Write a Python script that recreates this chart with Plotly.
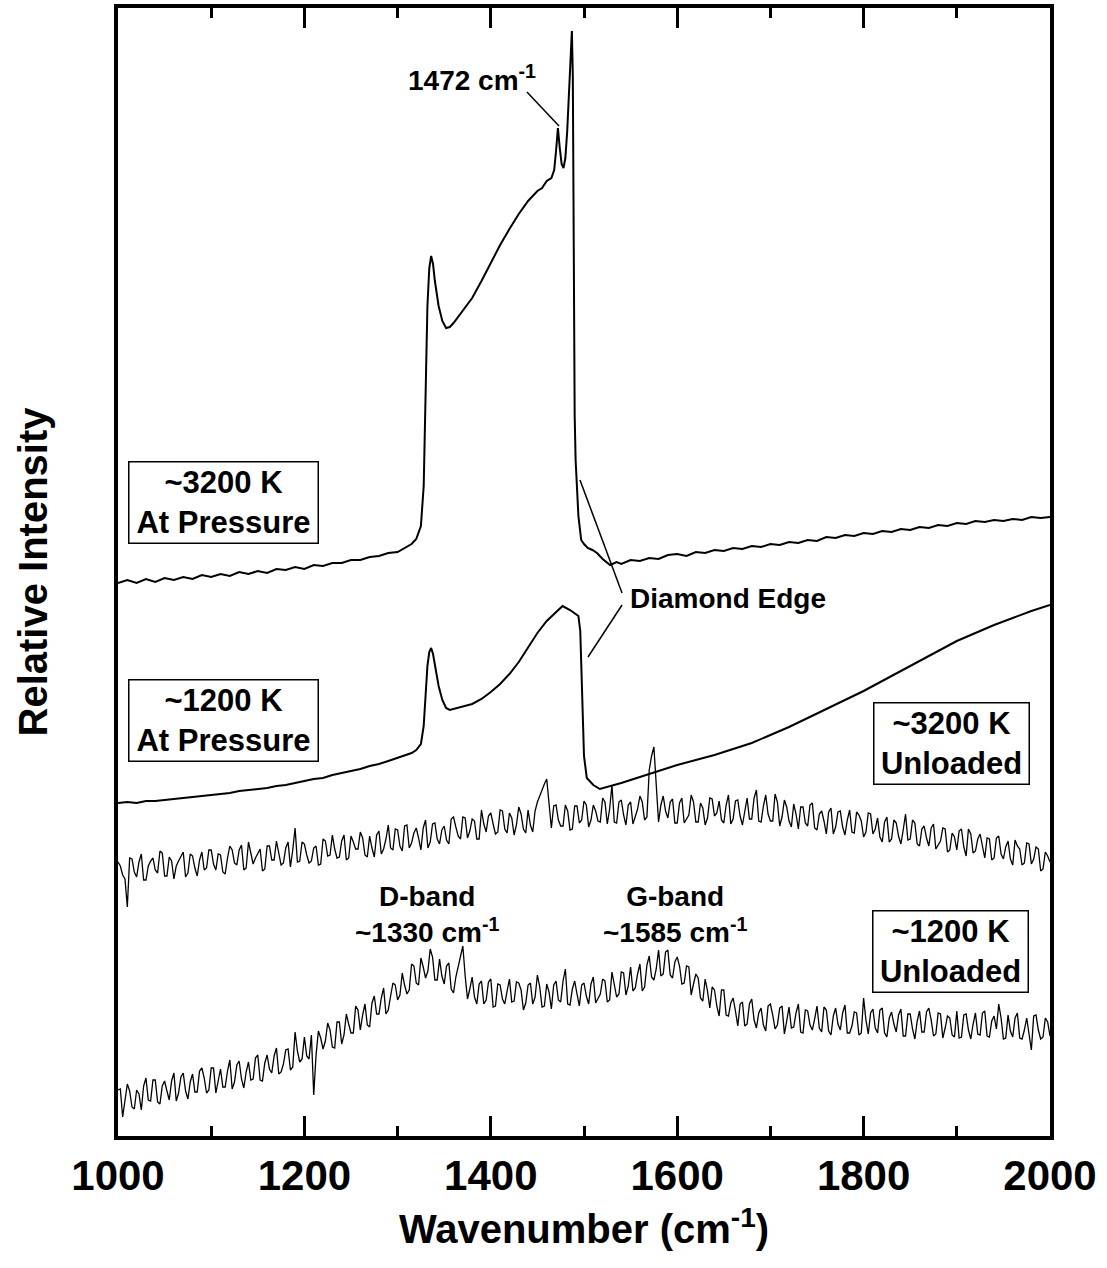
import plotly.graph_objects as go

FONT = "Liberation Sans, Arial, Helvetica, sans-serif"

# ---------------- data (relative intensity, arbitrary units) ----------------
# ~3200 K at pressure
X_3200P = [1000, 1010, 1020, 1030, 1040, 1050, 1060, 1070, 1080, 1090, 1100, 1110, 1120, 1130, 1140,
           1150, 1160, 1170, 1180, 1190, 1200, 1210, 1220, 1230, 1240, 1250, 1260, 1270, 1280, 1290,
           1300, 1310, 1315, 1320, 1325, 1328, 1330, 1332, 1334, 1336, 1338, 1340, 1344, 1348, 1352,
           1356, 1360, 1370, 1380, 1390, 1400, 1410, 1420, 1430, 1440, 1450, 1455, 1460, 1465, 1468,
           1470, 1472, 1474, 1476, 1478, 1480, 1482, 1484, 1486, 1487, 1488, 1489, 1490, 1491, 1494,
           1497, 1500, 1504, 1509, 1514, 1520, 1528, 1535, 1540, 1550, 1560, 1570, 1580, 1590, 1600,
           1610, 1620, 1630, 1640, 1650, 1660, 1670, 1680, 1690, 1700, 1710, 1720, 1730, 1740, 1750,
           1760, 1770, 1780, 1790, 1800, 1810, 1820, 1830, 1840, 1850, 1860, 1870, 1880, 1890, 1900,
           1910, 1920, 1930, 1940, 1950, 1960, 1970, 1980, 1990, 2000]
Y_3200P = [553, 556, 553, 557, 554, 558, 556, 559, 557, 561, 559, 562, 560, 564, 562,
           565, 563, 567, 566, 569, 567, 571, 570, 573, 573, 576, 576, 579, 580, 583,
           584, 589, 592, 597, 610, 650, 740, 830, 868, 880, 872, 855, 830, 815, 808,
           809, 813, 825, 838, 855, 873, 891, 907, 922, 935, 945, 948, 955, 958, 966,
           985, 1008, 988, 972, 968, 978, 1005, 1050, 1095, 1105, 1060, 850, 720, 676, 620,
           596, 592, 588, 586, 583, 577, 571, 574, 572, 576, 575, 578, 577, 581, 582,
           580, 584, 583, 586, 585, 588, 587, 590, 589, 592, 591, 594, 593, 596, 595,
           599, 598, 601, 600, 603, 602, 605, 604, 607, 606, 609, 608, 611, 610, 613,
           612, 615, 614, 616, 615, 617, 616, 619, 618, 619]

# ~1200 K at pressure
X_1200P = [1000, 1010, 1020, 1030, 1040, 1050, 1060, 1070, 1080, 1090, 1100, 1110, 1120, 1130, 1140,
           1150, 1160, 1170, 1180, 1190, 1200, 1210, 1220, 1230, 1240, 1250, 1260, 1270, 1280, 1290,
           1300, 1310, 1315, 1320, 1325, 1328, 1330, 1332, 1334, 1336, 1338, 1340, 1344, 1348, 1352,
           1356, 1360, 1370, 1380, 1390, 1400, 1410, 1420, 1430, 1440, 1450, 1460, 1470, 1477, 1485,
           1490, 1494, 1496, 1498, 1500, 1503, 1510, 1517, 1530, 1540, 1550, 1560, 1575, 1590, 1600,
           1620, 1640, 1660, 1680, 1700, 1720, 1740, 1760, 1780, 1800, 1820, 1840, 1860, 1880, 1900,
           1920, 1940, 1960, 1980, 2000]
Y_1200P = [333, 334, 333, 335, 335, 336, 337, 338, 339, 340, 341, 342, 343, 345, 346,
           347, 348, 350, 351, 353, 355, 357, 358, 361, 363, 365, 367, 370, 372, 375,
           378, 381, 383, 386, 392, 410, 440, 470, 484, 488, 482, 470, 450, 436, 428,
           426, 427, 429, 432, 437, 444, 452, 462, 474, 488, 503, 515, 524, 530, 526,
           523, 520, 505, 440, 380, 358, 351, 347, 350, 353, 356, 359, 364, 368, 371,
           376, 381, 387, 393, 401, 409, 418, 427, 436, 445, 455, 465, 475, 485, 495,
           503, 511, 518, 525, 531]

# unloaded spectra sampled every 2.5 cm^-1 from 1000 to 2000 (401 points)
X_UNLOADED = [1000 + 2.5 * i for i in range(401)]
Y_3200U = [
    274, 270, 261, 257, 229, 278, 277, 264, 259, 274, 282, 256, 256, 270, 275, 278, 266, 263, 285, 283,
    260, 260, 279, 275, 257, 270, 275, 279, 284, 259, 263, 282, 280, 268, 260, 276, 284, 266, 268, 286,
    286, 272, 266, 282, 281, 264, 262, 278, 290, 286, 273, 271, 286, 291, 266, 268, 294, 283, 272, 278,
    282, 287, 265, 267, 290, 290, 276, 276, 295, 284, 271, 273, 288, 294, 269, 286, 308, 274, 275, 294,
    292, 281, 273, 275, 288, 290, 271, 272, 297, 295, 280, 281, 301, 287, 278, 279, 295, 301, 276, 278,
    300, 294, 287, 287, 304, 298, 281, 279, 300, 288, 279, 301, 305, 282, 287, 297, 311, 288, 286, 307,
    306, 290, 285, 310, 311, 288, 293, 303, 308, 298, 286, 308, 316, 288, 294, 312, 313, 297, 292, 306,
    310, 296, 292, 317, 319, 309, 300, 297, 319, 318, 298, 305, 317, 315, 297, 297, 326, 312, 304, 320,
    323, 312, 302, 304, 326, 325, 307, 303, 323, 318, 301, 311, 329, 322, 307, 303, 326, 311, 304, 325,
    334, 340, 347, 352, 357, 330, 308, 330, 331, 316, 310, 310, 331, 325, 306, 307, 330, 330, 313, 316,
    335, 331, 309, 316, 331, 325, 315, 314, 338, 334, 312, 327, 351, 314, 313, 334, 336, 321, 311, 331,
    334, 312, 319, 327, 340, 334, 316, 319, 366, 380, 389, 350, 314, 331, 340, 325, 318, 334, 337, 313,
    313, 333, 338, 313, 317, 321, 341, 334, 314, 314, 333, 328, 311, 318, 338, 337, 320, 323, 335, 316,
    313, 331, 341, 312, 317, 335, 336, 320, 311, 326, 338, 317, 317, 338, 346, 315, 314, 330, 341, 322,
    315, 315, 342, 334, 310, 319, 336, 329, 315, 309, 332, 322, 307, 329, 329, 313, 310, 331, 333, 308,
    306, 322, 325, 315, 302, 324, 328, 302, 309, 324, 325, 309, 301, 316, 326, 304, 303, 324, 321, 315,
    299, 304, 323, 322, 302, 307, 318, 299, 294, 314, 319, 294, 297, 316, 313, 300, 292, 306, 322, 296,
    297, 316, 313, 292, 290, 307, 310, 298, 290, 308, 312, 287, 291, 295, 308, 307, 284, 286, 303, 299,
    286, 305, 307, 289, 280, 307, 302, 283, 285, 297, 302, 290, 278, 298, 297, 276, 278, 298, 300, 282,
    277, 289, 295, 277, 271, 296, 290, 287, 271, 273, 293, 292, 272, 277, 289, 287, 265, 267, 284, 280,
    274]
Y_1200U = [
    46, 47, 19, 34, 52, 45, 29, 27, 46, 42, 26, 50, 58, 36, 35, 56, 56, 34, 32, 50,
    55, 45, 36, 55, 63, 35, 43, 59, 63, 45, 37, 54, 62, 44, 44, 65, 68, 58, 43, 46,
    68, 68, 43, 55, 67, 49, 49, 65, 76, 47, 54, 71, 75, 57, 48, 64, 74, 56, 57, 78,
    81, 56, 55, 73, 81, 67, 63, 80, 88, 62, 64, 72, 86, 87, 66, 69, 104, 85, 74, 77,
    99, 80, 77, 101, 41, 81, 105, 98, 87, 95, 113, 106, 89, 88, 114, 114, 92, 101, 122, 112,
    103, 103, 130, 126, 106, 121, 132, 111, 109, 133, 140, 122, 122, 138, 148, 122, 126, 140, 153, 151,
    136, 141, 163, 151, 142, 146, 172, 170, 153, 151, 178, 169, 158, 165, 187, 179, 156, 156, 177, 160,
    152, 170, 173, 147, 143, 159, 170, 178, 190, 160, 137, 147, 159, 139, 132, 152, 155, 132, 136, 154,
    157, 129, 130, 152, 151, 137, 132, 145, 157, 134, 135, 154, 153, 146, 126, 133, 151, 153, 132, 139,
    161, 149, 129, 130, 152, 144, 127, 151, 155, 136, 134, 155, 167, 132, 131, 147, 155, 142, 130, 151,
    153, 140, 132, 152, 159, 133, 137, 142, 157, 155, 134, 136, 164, 151, 139, 142, 164, 163, 141, 150,
    169, 145, 148, 162, 172, 145, 149, 171, 180, 159, 156, 167, 186, 160, 162, 184, 186, 161, 158, 174,
    179, 170, 152, 153, 170, 169, 141, 152, 162, 158, 138, 135, 157, 145, 128, 149, 146, 130, 120, 146,
    146, 121, 120, 133, 138, 125, 110, 132, 134, 110, 112, 132, 137, 116, 108, 123, 128, 111, 105, 130,
    132, 121, 107, 111, 128, 130, 102, 115, 129, 108, 109, 123, 132, 104, 103, 126, 125, 111, 106, 117,
    130, 108, 104, 129, 126, 105, 101, 120, 128, 112, 106, 123, 131, 103, 103, 110, 124, 123, 101, 103,
    138, 116, 102, 123, 127, 108, 103, 126, 128, 103, 99, 118, 124, 112, 104, 121, 127, 100, 100, 122,
    122, 107, 97, 115, 125, 104, 104, 124, 128, 116, 100, 102, 123, 122, 98, 108, 120, 118, 101, 99,
    125, 98, 99, 121, 122, 106, 97, 112, 123, 102, 101, 123, 125, 100, 99, 115, 120, 107, 132, 118,
    97, 98, 121, 105, 99, 118, 123, 98, 97, 106, 118, 102, 86, 120, 121, 106, 97, 99, 118, 114,
    100]

MAJOR_TICKS = [1000, 1200, 1400, 1600, 1800, 2000]
MAJOR_LABELS = ["1000", "1200", "1400", "1600", "1800", "2000"]

# ---------------- figure ----------------
fig = go.Figure()
traces = [
    (X_3200P, Y_3200P, 2.0),
    (X_1200P, Y_1200P, 2.0),
    (X_UNLOADED, Y_3200U, 1.3),
    (X_UNLOADED, Y_1200U, 1.3),
]
for xs, ys, w in traces:
    fig.add_trace(go.Scatter(x=xs, y=ys, mode="lines",
                             line=dict(color="black", width=w), showlegend=False,
                             hoverinfo="skip"))

# ---------------- boxed labels ----------------
def box(x, y, text, w):
    fig.add_annotation(x=x, y=y, xref="x", yref="y", text="<b>" + text + "</b>",
                       showarrow=False, font=dict(family=FONT, size=31, color="black"),
                       bordercolor="black", borderwidth=1.5, borderpad=3, bgcolor="white",
                       width=w, height=74, align="center", xanchor="center", yanchor="middle")

box(1112.7, 634, "~3200 K<br>At Pressure", 182)
box(1112.7, 416, "~1200 K<br>At Pressure", 182)
box(1893.8, 393, "~3200 K<br>Unloaded", 148)
box(1892.7, 185, "~1200 K<br>Unloaded", 148)

def label(x, y, text, anchor="center"):
    fig.add_annotation(x=x, y=y, xref="x", yref="y", text="<b>" + text + "</b>",
                       showarrow=False, font=dict(family=FONT, size=28, color="black"),
                       xanchor=anchor, yanchor="middle", align="center")

label(1379.8, 1058, "1472 cm<sup>-1</sup>")
label(1547.2, 538, "Diamond Edge", anchor="left")
label(1331.5, 222, "D-band<br>~1330 cm<sup>-1</sup>")
label(1597.6, 222, "G-band<br>~1585 cm<sup>-1</sup>")

# leader lines
for x0, y0, x1, y1 in [(1438.8, 1044, 1473.2, 1010),
                       (1495.7, 656, 1540.8, 543),
                       (1540.8, 531, 1504.3, 479)]:
    fig.add_shape(type="line", xref="x", yref="y", x0=x0, y0=y0, x1=x1, y1=y1,
                  line=dict(color="black", width=1.5))

fig.update_layout(
    width=1107, height=1268,
    margin=dict(l=118, r=57, t=8, b=132),
    plot_bgcolor="white", paper_bgcolor="white",
    showlegend=False,
    font=dict(family=FONT, color="black"),
)
fig.update_xaxes(
    range=[1000, 2000], tickmode="array", tickvals=MAJOR_TICKS, ticktext=MAJOR_LABELS,
    ticks="inside", ticklen=20, tickwidth=3, tickcolor="black",
    minor=dict(dtick=100, tick0=1000, ticks="inside", ticklen=10, tickwidth=3, tickcolor="black"),
    showline=True, linewidth=4, linecolor="black", mirror="ticks",
    showgrid=False, zeroline=False, automargin=False,
    tickfont=dict(family=FONT, size=42, color="black", weight="bold"),
    title=dict(text="<b>Wavenumber (cm<sup>-1</sup>)</b>",
               font=dict(family=FONT, size=40, color="black"), standoff=18),
)
fig.update_yaxes(
    range=[0, 1128], showticklabels=False, ticks="",
    showline=True, linewidth=4, linecolor="black", mirror=True,
    showgrid=False, zeroline=False, automargin=False,
    title=dict(text="<b>Relative Intensity</b>",
               font=dict(family=FONT, size=40, color="black"), standoff=55),
)

fig.write_html("out.html")
